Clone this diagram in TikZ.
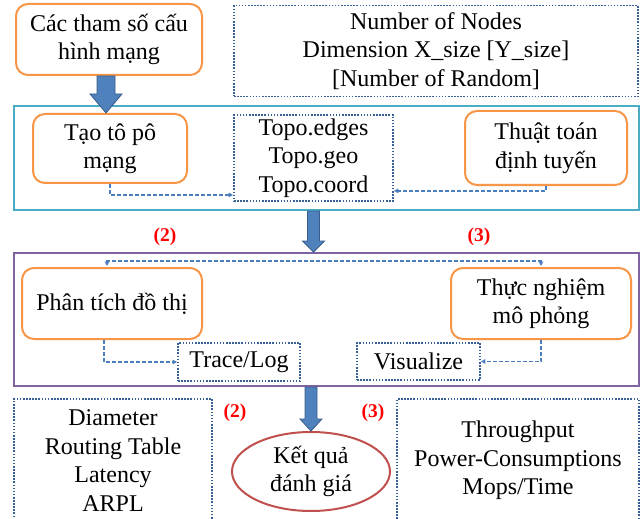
\documentclass[tikz,border=0pt]{standalone}
\usepackage{fontspec}
\setmainfont{Liberation Serif}
\usetikzlibrary{calc,arrows.meta,shapes.geometric}

\definecolor{boxorange}{RGB}{247,150,70}
\definecolor{stagecyan}{RGB}{75,172,198}
\definecolor{stagepurple}{RGB}{128,100,162}
\definecolor{dotblue}{RGB}{54,96,150}
\definecolor{dashblue}{RGB}{74,126,190}
\definecolor{arrfill}{RGB}{79,129,189}
\definecolor{arrline}{RGB}{56,93,138}
\definecolor{resred}{RGB}{192,80,77}

% thick filled arrow from #1 to #2: half shaft #3, half head #4, head length #5
\newcommand\blockarr[5]{%
  \draw[blockarrow] let \p1=#1, \p2=#2 in
    (\x1-#3pt,\y1) -- (\x1+#3pt,\y1) -- (\x1+#3pt,\y2+#5pt) -- (\x1+#4pt,\y2+#5pt)
    -- (\x1,\y2) -- (\x1-#4pt,\y2+#5pt) -- (\x1-#3pt,\y2+#5pt) -- cycle;}

\tikzset{
  txt/.style={font=\fontsize{24}{28.5}\selectfont, align=center, text=black, inner sep=0pt},
  obox/.style={txt, draw=boxorange, line width=2pt, rounded corners=12pt},
  dbox/.style={txt, draw=dotblue, line width=1.8pt, dash pattern=on 1.6pt off 1.5pt},
  stage/.style={draw=#1, line width=2pt, inner sep=0pt, minimum width=625pt},
  dconn/.style={draw=dashblue, line width=1.3pt, dash pattern=on 4pt off 2pt,
    -{Triangle[length=4.5pt,width=4.5pt]}},
  blockarrow/.style={fill=arrfill, draw=arrline, line width=0.8pt},
  tag/.style={font=\fontsize{19.5}{22}\selectfont\bfseries, text=red, inner sep=0pt}
}

\begin{document}
\begin{tikzpicture}[x=1pt, y=-1pt]
  \useasboundingbox (0,0) rectangle (641,519);
  \fill[white] (0,0) rectangle (641,519);
  \clip (0,0) rectangle (641,519);

  % stage frames
  \node[stage=stagecyan, minimum height=104pt] (stagecy) at (326.5,158) {};
  \node[stage=stagepurple, minimum height=133pt] (stagepu) at (326.5,319.5) {};

  % inputs
  \node[obox, minimum width=186pt, minimum height=71pt] (cfg) at (109,39.5)
    {Các tham số cấu\\hình mạng};
  \node[dbox, minimum width=404pt, minimum height=91pt] (params) at (436,51)
    {Number of Nodes\\Dimension X\_size [Y\_size]\\[0pt][Number of Random]};

  % stage 1
  \node[obox, minimum width=154pt, minimum height=69pt] (tao) at (110,148.5)
    {Tạo tô pô\\mạng};
  \node[dbox, minimum width=159pt, minimum height=86pt] (topo) at (313.5,158)
    {Topo.edges\\Topo.geo\\Topo.coord};
  \node[obox, minimum width=162pt, minimum height=74pt] (thuat) at (546,148)
    {Thuật toán\\định tuyến};

  % stage 2
  \node[obox, minimum width=180pt, minimum height=71pt] (phan) at (112,303.5)
    {Phân tích đồ thị};
  \node[dbox, minimum width=122pt, minimum height=38pt] (trace) at (239,362)
    {Trace/Log};
  \node[obox, minimum width=180pt, minimum height=71pt] (thuc) at (541,303.5)
    {Thực nghiệm\\mô phỏng};
  \node[dbox, minimum width=123pt, minimum height=37pt] (vis) at (418.5,361.5)
    {Visualize};

  % results
  \node[txt, ellipse, draw=resred, line width=2pt, minimum width=158pt, minimum height=79pt]
    (kq) at (311,471.5) {Kết quả\\đánh giá};
  \node[dbox, minimum width=198pt, minimum height=123pt] (metA) at (113,460.5)
    {Diameter\\Routing Table\\Latency\\ARPL};
  \node[dbox, minimum width=242pt, minimum height=123pt] (metB) at (518,460.5)
    {Throughput\\Power-Consumptions\\Mops/Time};

  % labels
  \node[tag] (t2a) at (165,237) {(2)};
  \node[tag] (t3a) at (479,237) {(3)};
  \node[tag] (t2b) at (235,413) {(2)};
  \node[tag] (t3b) at (373,413) {(3)};

  % dashed data flows
  \draw[dconn] (tao.south) |- ($(topo.south west)+(0,-7)$);
  \draw[dconn] (thuat.south) |- ($(topo.south east)+(0,-11)$);
  \draw[dconn] ($(phan.south)+(-8,0)$) |- (trace.west);
  \draw[dconn] (thuc.south) |- (vis.east);
  \draw[dconn, {Triangle[length=4.5pt,width=4.5pt]}-{Triangle[length=4.5pt,width=4.5pt]}]
    ($(phan.north)+(-5,-1)$) -- ++(0,-5) -| ($(thuc.north)+(0,-1)$);

  % main flow
  \blockarr{($(cfg.south)+(-3,0)$)}{($(tao.north)+(-4,0)$)}{9}{16}{19}
  \blockarr{(topo.south |- stagecy.south)}{(topo.south |- stagepu.north)}{6}{11}{11}
  \blockarr{(kq.north |- stagepu.south)}{(kq.north)}{6}{11}{12}
\end{tikzpicture}
\end{document}
